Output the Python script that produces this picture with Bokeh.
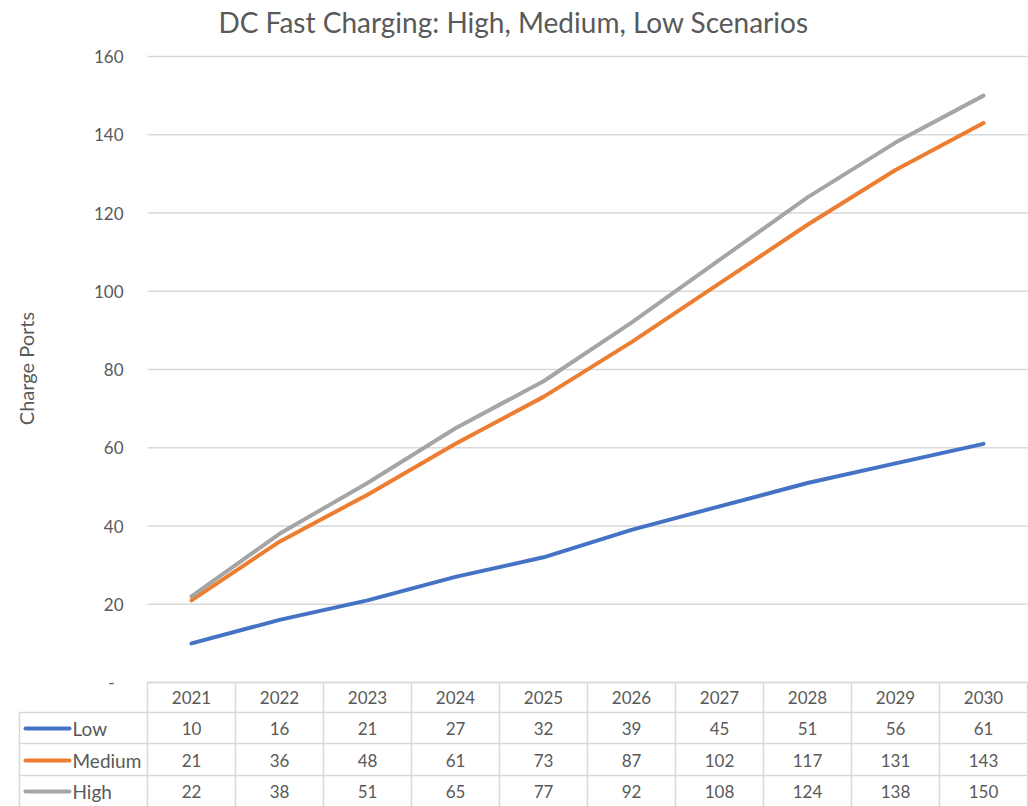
import math
from bokeh.plotting import figure
from bokeh.models import Range1d
from bokeh.core.properties import value
from bokeh.embed import file_html
from bokeh.resources import INLINE

# ---- data -------------------------------------------------------------
years = ["2021", "2022", "2023", "2024", "2025", "2026", "2027", "2028", "2029", "2030"]
low = [10, 16, 21, 27, 32, 39, 45, 51, 56, 61]
medium = [21, 36, 48, 61, 73, 87, 102, 117, 131, 143]
high = [22, 38, 51, 65, 77, 92, 108, 124, 138, 150]
series_names = ["Low", "Medium", "High"]
series_values = [low, medium, high]
series_colors = ["#4472C4", "#ED7D31", "#A5A5A5"]
y_ticks = [0, 20, 40, 60, 80, 100, 120, 140, 160]
y_tick_labels = ["-", "20", "40", "60", "80", "100", "120", "140", "160"]
title_text = "DC Fast Charging: High, Medium, Low Scenarios"
y_title = "Charge Ports"

# ---- layout -----------------------------------------------------------
W, H = 1028, 806
PLOT_L, PLOT_R = 147, 1027       # plot area, pixels
ZERO_PX, TOP_PX = 682, 56        # y pixel of 0 and of the top tick
TABLE_LEFT = 19
ROW_LINES = [682, 712, 743, 775]  # table row borders
ROW_MID = [697, 728, 760, 791]    # header, Low, Medium, High
TEXT = "#595959"
GRID = "#D9D9D9"
FONT = value("Lato")

n = len(years)
col_w = (PLOT_R - PLOT_L) / n
ppu = (ZERO_PX - TOP_PX) / y_ticks[-1]

p = figure(width=W, height=H, output_backend="svg", toolbar_location=None,
           x_range=Range1d(0, W), y_range=Range1d(H, 0),
           x_axis_location=None, y_axis_location=None, min_border=0)
p.grid.visible = False
p.outline_line_color = None
p.background_fill_color = "white"
p.border_fill_color = "white"

# category / value scales for the chart
p.extra_x_ranges["cat"] = Range1d(-0.5 - PLOT_L / col_w, n - 0.5 + (W - PLOT_R) / col_w)
p.extra_y_ranges["val"] = Range1d(-(H - ZERO_PX) / ppu, ZERO_PX / ppu)

# horizontal gridlines
p.segment(x0=[-0.5] * len(y_ticks), x1=[n - 0.5] * len(y_ticks), y0=y_ticks, y1=y_ticks,
          x_range_name="cat", y_range_name="val", line_color=GRID, line_width=1.3)

# y tick labels
p.text(x=[123 - (9 if t == "-" else 0) for t in y_tick_labels], y=y_ticks, text=y_tick_labels,
       y_range_name="val", text_align="right", text_baseline="middle",
       text_font=FONT, text_font_size="17px", text_color=TEXT)

# series lines
xs = list(range(n))
for vals, col in zip(series_values, series_colors):
    p.line(x=xs, y=vals, x_range_name="cat", y_range_name="val",
           line_color=col, line_width=4, line_join="round", line_cap="round")

# ---- data table -------------------------------------------------------
# horizontal borders
p.segment(x0=[PLOT_L] + [TABLE_LEFT] * 3, x1=[PLOT_R] * 4, y0=ROW_LINES, y1=ROW_LINES,
          line_color=GRID, line_width=1.5)
# vertical borders between year columns
p.segment(x0=[i - 0.5 for i in range(n + 1)], x1=[i - 0.5 for i in range(n + 1)],
          y0=[ROW_LINES[0]] * (n + 1), y1=[H] * (n + 1),
          x_range_name="cat", line_color=GRID, line_width=1.5)
p.segment(x0=[TABLE_LEFT], x1=[TABLE_LEFT], y0=[ROW_LINES[1]], y1=[H],
          line_color=GRID, line_width=1.5)

# header years
p.text(x=xs, y=[ROW_MID[0]] * n, text=years, x_range_name="cat",
       text_align="center", text_baseline="middle",
       text_font=FONT, text_font_size="17px", text_color=TEXT)

# rows: legend key + values
for r, (name, vals, col) in enumerate(zip(series_names, series_values, series_colors)):
    ym = ROW_MID[r + 1]
    p.segment(x0=[25], x1=[69], y0=[ym], y1=[ym], line_color=col, line_width=4, line_cap="round")
    p.text(x=[72], y=[ym], text=[name], text_align="left", text_baseline="middle",
           text_font=FONT, text_font_size="19px", text_color=TEXT)
    p.text(x=xs, y=[ym] * n, text=[str(v) for v in vals], x_range_name="cat",
           text_align="center", text_baseline="middle",
           text_font=FONT, text_font_size="17px", text_color=TEXT)

# ---- titles -----------------------------------------------------------
p.text(x=[513], y=[21], text=[title_text], text_align="center", text_baseline="middle",
       text_font=FONT, text_font_size="28px", text_color=TEXT)
p.text(x=[25], y=[368], text=[y_title], angle=math.pi / 2, text_align="center",
       text_baseline="middle", text_font=FONT, text_font_size="20px", text_color=TEXT)

open("out.html", "w").write(file_html(p, INLINE))
